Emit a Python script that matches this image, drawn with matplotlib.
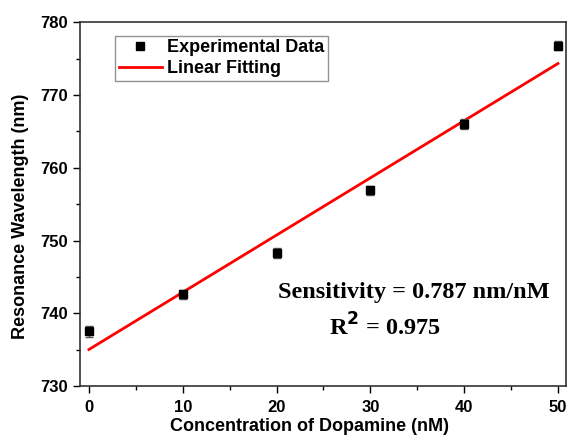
import numpy as np
import matplotlib
matplotlib.use("Agg")
import matplotlib.pyplot as plt
from matplotlib.ticker import MultipleLocator
from matplotlib.lines import Line2D

# concentration (nM) and measured resonance wavelength (nm)
concentration = [0, 10, 20, 30, 40, 50]
wavelength = [737.5, 742.6, 748.3, 756.9, 766.0, 776.8]
wl_err = [0.7, 0.6, 0.7, 0.6, 0.7, 0.6]

plt.rcParams['font.family'] = ['Liberation Sans', 'DejaVu Sans']
plt.rcParams['font.weight'] = 'bold'

fig = plt.figure(figsize=(5.69, 4.37), dpi=100)
ax = fig.add_axes([0.1406, 0.1167, 0.854, 0.832])

# linear fit
slope, intercept = np.polyfit(concentration, wavelength, 1)
xfit = np.array([concentration[0], concentration[-1]])
ax.plot(xfit, slope * xfit + intercept, color='#ff0000', lw=2, zorder=2)

ax.errorbar(concentration, wavelength, yerr=wl_err, fmt='s', color='black', ms=5.5,
            ecolor='#555555', elinewidth=1, capsize=3, capthick=1, zorder=3)

ax.set_xlim(-0.95, 50.85)
ax.set_ylim(730, 780)
ax.xaxis.set_major_locator(MultipleLocator(10))
ax.xaxis.set_minor_locator(MultipleLocator(5))
ax.yaxis.set_major_locator(MultipleLocator(10))
ax.yaxis.set_minor_locator(MultipleLocator(5))
ax.tick_params(which='major', direction='out', length=5, width=1, labelsize=12)
ax.tick_params(axis='x', which='major', pad=5)
ax.tick_params(which='minor', direction='out', length=3, width=1)
for s in ax.spines.values():
    s.set_linewidth(1.2)
    s.set_color('#333333')

ax.set_xlabel('Concentration of Dopamine (nM)', fontsize=13, fontweight='bold')
ax.set_ylabel('Resonance Wavelength (nm)', fontsize=13, fontweight='bold')
ax.xaxis.set_label_coords(0.473, -0.087)
ax.yaxis.set_label_coords(-0.104, 0.466)

handles = [Line2D([], [], ls='none', marker='s', color='black', ms=5.5),
           Line2D([], [], color='#ff0000', lw=2)]
labels = ['Experimental Data', 'Linear Fitting']
leg = ax.legend(handles, labels, loc='upper left', bbox_to_anchor=(0.072, 0.963),
                fontsize=13, fancybox=False, edgecolor='#777777', handlelength=2.4,
                borderpad=0.2, labelspacing=0.2, handletextpad=0.3, borderaxespad=0)
leg.get_frame().set_linewidth(1)

serif = ['Liberation Serif', 'DejaVu Serif']
ax.text(0.407, 0.258, 'Sensitivity = 0.787 nm/nM', transform=ax.transAxes, fontsize=17.5,
        fontweight='bold', family=serif, ha='left', va='center')
ax.text(0.513, 0.162, r'R$^\mathbf{2}$ = 0.975', transform=ax.transAxes, fontsize=17.5,
        fontweight='bold', family=serif, ha='left', va='center')

fig.savefig('out.png', dpi=100)
